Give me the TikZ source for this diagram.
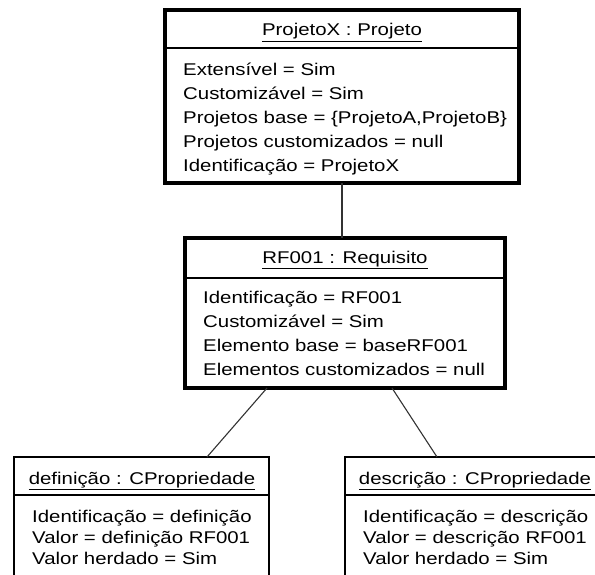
\documentclass[tikz,border=0pt]{standalone}
\usepackage{fontspec}
\setmainfont[FakeStretch=1.2]{Liberation Sans}
\usetikzlibrary{calc}
\begin{document}
\begin{tikzpicture}[x=1pt,y=-1pt,
  objframe/.style={draw=black,fill=white,rectangle,anchor=north west,
    inner sep=0pt,outer sep=0pt,line width=3.6pt},
  partframe/.style={objframe,line width=2.2pt},
  titletext/.style={anchor=base,inner xsep=0pt,inner ysep=1.6pt,
    font=\fontsize{17}{20}\selectfont},
  attrtext/.style={anchor=base west,inner sep=0pt,
    font=\fontsize{17}{20}\selectfont},
  divider/.style={line width=1.1pt},
  uline/.style={line width=0.9pt},
  link/.style={draw=black!80,line width=1.1pt}]

  \clip (0,0) rectangle (595,575);
  \fill[white] (0,0) rectangle (595,575);

  % ---- ProjetoX : Projeto ----
  \node[objframe,minimum width=354pt,minimum height=173pt] (proj) at (165,10) {};
  \draw[divider] ($(proj.north west)+(0,38)$) -- ($(proj.north east)+(0,38)$);
  \node[titletext] (projT) at (342,36) {ProjetoX : Projeto};
  \draw[uline] (projT.south west) -- (projT.south east);
  \node[attrtext] (p1) at (183,76)  {Extensível = Sim};
  \node[attrtext] (p2) at (183,100) {Customizável = Sim};
  \node[attrtext] (p3) at (183,124) {Projetos base = \{ProjetoA,ProjetoB\}};
  \node[attrtext] (p4) at (183,148) {Projetos customizados = null};
  \node[attrtext] (p5) at (183,172) {Identificação = ProjetoX};

  % ---- RF001 : Requisito ----
  \node[objframe,minimum width=320pt,minimum height=150pt] (req) at (185,238) {};
  \draw[divider] ($(req.north west)+(0,40)$) -- ($(req.north east)+(0,40)$);
  \node[titletext] (reqT) at (345,263) {RF001 : Requisito};
  \draw[uline] (reqT.south west) -- (reqT.south east);
  \node[attrtext] (r1) at (203,303) {Identificação = RF001};
  \node[attrtext] (r2) at (203,327) {Customizável = Sim};
  \node[attrtext] (r3) at (203,351) {Elemento base = baseRF001};
  \node[attrtext] (r4) at (203,375) {Elementos customizados = null};

  % ---- definição : CPropriedade ----
  \node[partframe,minimum width=255pt,minimum height=160pt] (defn) at (14,457) {};
  \draw[divider] ($(defn.north west)+(0,38)$) -- ($(defn.north east)+(0,38)$);
  \node[titletext] (defnT) at (142,484) {definição : CPropriedade};
  \draw[uline] (defnT.south west) -- (defnT.south east);
  \node[attrtext] (d1) at (32,522) {Identificação = definição};
  \node[attrtext] (d2) at (32,543) {Valor = definição RF001};
  \node[attrtext] (d3) at (32,564) {Valor herdado = Sim};

  % ---- descrição : CPropriedade ----
  \node[partframe,minimum width=261pt,minimum height=160pt] (desc) at (345,457) {};
  \draw[divider] ($(desc.north west)+(0,38)$) -- ($(desc.north east)+(0,38)$);
  \node[titletext] (descT) at (475,484) {descrição : CPropriedade};
  \draw[uline] (descT.south west) -- (descT.south east);
  \node[attrtext] (e1) at (363,522) {Identificação = descrição};
  \node[attrtext] (e2) at (363,543) {Valor = descrição RF001};
  \node[attrtext] (e3) at (363,564) {Valor herdado = Sim};

  % ---- links ----
  \coordinate (xa) at (342,0);
  \coordinate (xb) at (267,0);
  \coordinate (xc) at (207,0);
  \coordinate (xd) at (392,0);
  \coordinate (xe) at (437,0);
  \draw[link] (proj.south -| xa) -- (req.north -| xa);
  \draw[link] (req.south -| xb) -- (defn.north -| xc);
  \draw[link] (req.south -| xd) -- (desc.north -| xe);
\end{tikzpicture}
\end{document}
